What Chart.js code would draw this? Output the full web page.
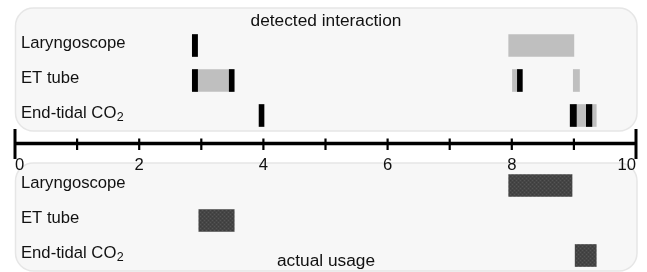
<!DOCTYPE html>
<html><head><meta charset="utf-8">
<script src="https://cdn.jsdelivr.net/npm/chart.js@4/dist/chart.umd.min.js"></script>
<style>html,body{margin:0;padding:0;background:#fff;}canvas{display:block;}</style>
</head><body>
<canvas id="c" width="647" height="272"></canvas>
<script>
// ---- data ----
const rowLabels = ['Laryngoscope', 'ET tube', 'End-tidal CO'];
const rowSubscripts = ['', '', '2'];
const xTickLabels = ['0', '', '2', '', '4', '', '6', '', '8', '', '10'];
const panelTitles = ['detected interaction', 'actual usage'];

// detected interaction: gray spans
const detSpanRow   = [0, 1, 1, 1, 2];
const detSpanStart = [7.95, 2.90, 8.01, 8.99, 9.00];
const detSpanEnd   = [9.00, 3.50, 8.12, 9.09, 9.36];
// detected interaction: black event markers
const detMarkRow   = [0, 1, 1, 1, 2, 2, 2];
const detMarkStart = [2.855, 2.855, 3.45, 8.09, 3.93, 8.94, 9.20];
const detMarkEnd   = [2.94, 2.94, 3.53, 8.17, 4.01, 9.04, 9.29];
// actual usage
const useRow   = [0, 1, 2];
const useStart = [7.95, 2.96, 9.02];
const useEnd   = [8.97, 3.53, 9.36];

// ---- layout constants ----
const BOTTOM_OFFSET = 4;     // bottom panel rows sit at row + 4
const AXIS_Y = 2.8;          // y value where the time axis is placed
const FONT = '"Liberation Sans", Arial, sans-serif';
const LABEL_SIZE = 16.67;
const LABEL_PAD = 6;
const LABEL_SHIFT = -2.5;

function makePattern() {
  const p = document.createElement('canvas');
  p.width = 4; p.height = 4;
  const g = p.getContext('2d');
  g.fillStyle = '#454545'; g.fillRect(0, 0, 4, 4);
  g.fillStyle = '#555555';
  g.fillRect(0, 0, 1, 1); g.fillRect(2, 2, 1, 1);
  g.fillStyle = '#3c3c3c';
  g.fillRect(2, 0, 1, 1); g.fillRect(0, 2, 1, 1);
  return g.createPattern(p, 'repeat');
}

function roundRect(ctx, x, y, w, h, r) {
  ctx.beginPath();
  ctx.moveTo(x + r, y);
  ctx.arcTo(x + w, y, x + w, y + h, r);
  ctx.arcTo(x + w, y + h, x, y + h, r);
  ctx.arcTo(x, y + h, x, y, r);
  ctx.arcTo(x, y, x + w, y, r);
  ctx.closePath();
}

const panelsPlugin = {
  id: 'panels',
  beforeDraw(chart) {
    const ctx = chart.ctx, xs = chart.scales.x, ys = chart.scales.y;
    const L = xs.getPixelForValue(0) + 0.5, R = xs.getPixelForValue(10) + 1;
    const boxes = [
      [ys.getPixelForValue(0) - 37.5, ys.getPixelForValue(2) + 15.5],
      [ys.getPixelForValue(BOTTOM_OFFSET) - 22.5, ys.getPixelForValue(BOTTOM_OFFSET + 2) + 15.5]
    ];
    ctx.save();
    ctx.fillStyle = '#fff';
    ctx.fillRect(0, 0, chart.width, chart.height);
    boxes.forEach(([T, B]) => {
      roundRect(ctx, L, T, R - L, B - T, 18);
      ctx.fillStyle = '#f7f7f7';
      ctx.fill();
      ctx.lineWidth = 1.5;
      ctx.strokeStyle = '#e6e6e6';
      ctx.stroke();
    });
    ctx.restore();
  }
};

// subscripts for row labels (e.g. CO2)
const subscriptPlugin = {
  id: 'subscripts',
  afterDraw(chart) {
    const ctx = chart.ctx, ys = chart.scales.y;
    ctx.save();
    ctx.fillStyle = '#111';
    ys.ticks.forEach(t => {
      const r = t.value % BOTTOM_OFFSET;
      if (!rowSubscripts[r]) return;
      ctx.font = LABEL_SIZE + 'px ' + FONT;
      const w = ctx.measureText(rowLabels[r]).width;
      ctx.font = '12.5px ' + FONT;
      ctx.textAlign = 'left';
      ctx.textBaseline = 'middle';
      ctx.fillText(rowSubscripts[r], ys.right + LABEL_PAD + w + 0.5, ys.getPixelForValue(t.value) + LABEL_SHIFT + 5);
    });
    ctx.restore();
  }
};

const axisPlugin = {
  id: 'axisDecor',
  afterDatasetsDraw(chart) {
    const ctx = chart.ctx, xs = chart.scales.x, ys = chart.scales.y;
    const y0 = ys.getPixelForValue(AXIS_Y);
    const ticks = xs.ticks;
    ctx.save();
    ctx.strokeStyle = '#000';
    ctx.lineWidth = 3.5;
    ctx.beginPath();
    ctx.moveTo(xs.getPixelForValue(ticks[0].value), y0);
    ctx.lineTo(xs.getPixelForValue(ticks[ticks.length - 1].value), y0);
    ctx.stroke();
    ticks.forEach((t, i) => {
      const px = xs.getPixelForValue(t.value);
      const end = (i === 0 || i === ticks.length - 1);
      ctx.lineWidth = end ? 3 : 2.2;
      ctx.beginPath();
      ctx.moveTo(px, y0 - (end ? 14.5 : 5));
      ctx.lineTo(px, y0 + (end ? 15.5 : 6.5));
      ctx.stroke();
    });
    ctx.restore();
  }
};

const titlePlugin = {
  id: 'panelTitles',
  afterDraw(chart) {
    const ctx = chart.ctx, xs = chart.scales.x;
    const cx = (xs.getPixelForValue(0) + xs.getPixelForValue(10)) / 2 + 0.5;
    ctx.save();
    ctx.fillStyle = '#111';
    ctx.font = '17.3px ' + FONT;
    ctx.textAlign = 'center';
    ctx.textBaseline = 'alphabetic';
    ctx.fillText(panelTitles[0], cx, 25.5);
    ctx.fillText(panelTitles[1], cx, 266);
    ctx.restore();
  }
};

const usagePattern = makePattern();

const chart = new Chart(document.getElementById('c'), {
  type: 'bar',
  data: {
    datasets: [
      {
        label: 'detected markers',
        data: detMarkRow.map((r, i) => ({ y: r, x: [detMarkStart[i], detMarkEnd[i]] })),
        backgroundColor: '#000',
        order: 0
      },
      {
        label: 'detected interaction',
        data: detSpanRow.map((r, i) => ({ y: r, x: [detSpanStart[i], detSpanEnd[i]] })),
        backgroundColor: '#bfbfbf',
        order: 1
      },
      {
        label: 'actual usage',
        data: useRow.map((r, i) => ({ y: r + BOTTOM_OFFSET, x: [useStart[i], useEnd[i]] })),
        backgroundColor: usagePattern,
        order: 1
      }
    ]
  },
  options: {
    indexAxis: 'y',
    responsive: false,
    animation: false,
    devicePixelRatio: 1,
    layout: { padding: { left: 0, right: 11, top: 0, bottom: 0 } },
    datasets: { bar: { barThickness: 22, grouped: false, borderWidth: 0, clip: false } },
    plugins: { legend: { display: false }, tooltip: { enabled: false }, title: { display: false } },
    scales: {
      x: {
        type: 'linear',
        min: 0, max: 10,
        offset: false,
        position: { y: AXIS_Y },
        grid: { display: false, drawTicks: false },
        border: { display: false },
        afterFit: (s) => { s.paddingLeft = 0; s.paddingRight = 0; },
        ticks: {
          stepSize: 1,
          autoSkip: false,
          maxRotation: 0,
          align: 'inner',
          padding: 12,
          color: '#111',
          font: { family: FONT, size: LABEL_SIZE },
          callback: (v, i) => xTickLabels[i]
        }
      },
      y: {
        type: 'linear',
        reverse: true,
        offset: false,
        min: -1.3,
        max: -1.3 + 272 / 35,
        position: 'left',
        grid: { display: false, drawTicks: false },
        border: { display: false },
        afterBuildTicks: (s) => {
          s.ticks = [0, 1, 2].concat([0, 1, 2].map(r => r + BOTTOM_OFFSET)).map(v => ({ value: v }));
        },
        afterFit: (s) => { s.width = 15; s.paddingTop = 0; s.paddingBottom = 0; },
        ticks: {
          mirror: true,
          padding: LABEL_PAD,
          labelOffset: LABEL_SHIFT,
          color: '#111',
          font: { family: FONT, size: LABEL_SIZE },
          callback: (v) => rowLabels[v % BOTTOM_OFFSET]
        }
      }
    }
  },
  plugins: [panelsPlugin, axisPlugin, subscriptPlugin, titlePlugin]
});
</script>
</body></html>
